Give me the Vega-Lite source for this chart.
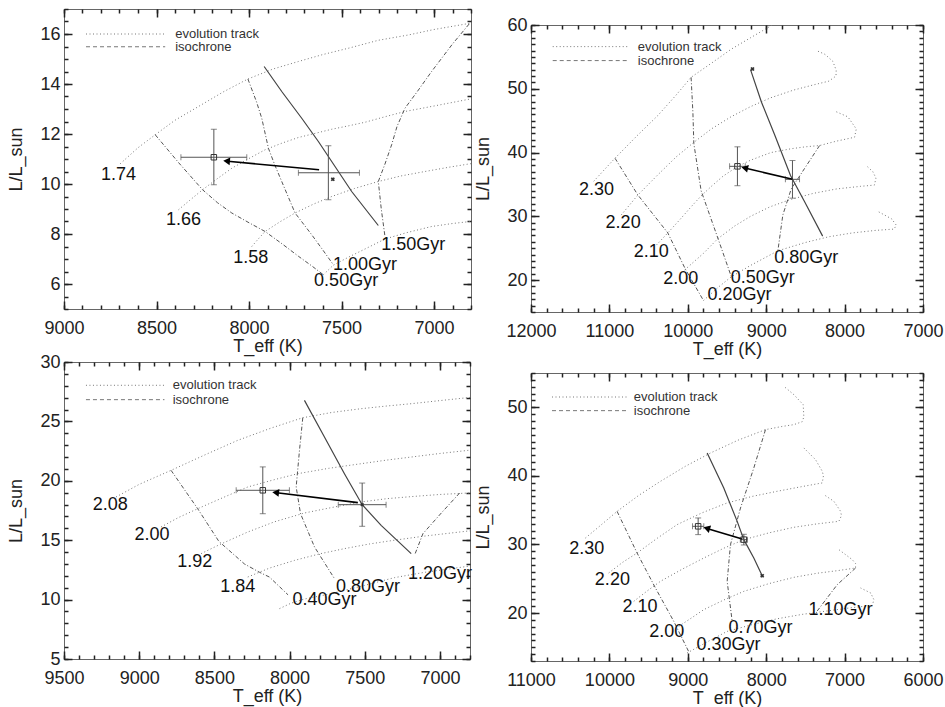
{
"$schema": "https://vega.github.io/schema/vega-lite/v6.json",
"background": "white",
"padding": {"left": 7, "top": 7, "right": 2, "bottom": 2},
"config": {
  "font": "Liberation Sans",
  "view": {"stroke": "#666", "strokeWidth": 1},
  "axis": {"domain": false, "grid": false, "ticks": true, "tickOpacity": 1, "tickColor": "#222", "tickWidth": 1.5, "tickSize": 8, "offset": -8, "labelFont": "Liberation Sans", "labelFontSize": 18, "labelColor": "#222", "titleFont": "Liberation Sans", "titleFontSize": 18, "titleFontWeight": "normal", "titleColor": "#222", "labelOverlap": false, "labelFlush": false},
  "axisBottom": {"labelPadding": 10, "titlePadding": 0},
  "axisLeft": {"labelPadding": 4, "titlePadding": 14},
  "text": {"font": "Liberation Sans"}
},
"datasets": {
  "p1t": [
    {"s":"a","T":8696,"L":10.81},{"s":"a","T":8600,"L":11.45},{"s":"a","T":8507,"L":11.97},{"s":"a","T":8400,"L":12.55},{"s":"a","T":8273,"L":13.1},{"s":"a","T":8140,"L":13.68},{"s":"a","T":8006,"L":14.2},{"s":"a","T":7870,"L":14.6},{"s":"a","T":7733,"L":14.9},{"s":"a","T":7600,"L":15.18},{"s":"a","T":7463,"L":15.43},{"s":"a","T":7300,"L":15.75},{"s":"a","T":7139,"L":15.96},{"s":"a","T":7000,"L":16.18},{"s":"a","T":6804,"L":16.43},{"s":"a","T":6750,"L":16.5},
    {"s":"b","T":8381,"L":8.97},{"s":"b","T":8320,"L":9.35},{"s":"b","T":8251,"L":9.77},{"s":"b","T":8170,"L":10.22},{"s":"b","T":8093,"L":10.63},{"s":"b","T":8000,"L":11.02},{"s":"b","T":7913,"L":11.37},{"s":"b","T":7820,"L":11.64},{"s":"b","T":7733,"L":11.86},{"s":"b","T":7640,"L":12.03},{"s":"b","T":7553,"L":12.19},{"s":"b","T":7460,"L":12.33},{"s":"b","T":7373,"L":12.47},{"s":"b","T":7260,"L":12.7},{"s":"b","T":7157,"L":12.9},{"s":"b","T":7000,"L":13.12},{"s":"b","T":6804,"L":13.4},{"s":"b","T":6750,"L":13.45},
    {"s":"c","T":7985,"L":7.5},{"s":"c","T":7950,"L":7.8},{"s":"c","T":7913,"L":8.1},{"s":"c","T":7830,"L":8.5},{"s":"c","T":7751,"L":8.84},{"s":"c","T":7650,"L":9.2},{"s":"c","T":7553,"L":9.5},{"s":"c","T":7430,"L":9.82},{"s":"c","T":7301,"L":10.1},{"s":"c","T":7180,"L":10.32},{"s":"c","T":7049,"L":10.5},{"s":"c","T":6920,"L":10.67},{"s":"c","T":6804,"L":10.81},{"s":"c","T":6750,"L":10.86},
    {"s":"d","T":7598,"L":6.37},{"s":"d","T":7545,"L":6.75},{"s":"d","T":7450,"L":7.12},{"s":"d","T":7373,"L":7.4},{"s":"d","T":7265,"L":7.8},{"s":"d","T":7150,"L":8.05},{"s":"d","T":7013,"L":8.3},{"s":"d","T":6900,"L":8.42},{"s":"d","T":6804,"L":8.5},{"s":"d","T":6750,"L":8.55}
  ],
  "p1i": [
    {"s":"a","T":8507,"L":11.97},{"s":"a","T":8380,"L":10.85},{"s":"a","T":8251,"L":9.77},{"s":"a","T":8170,"L":9.25},{"s":"a","T":8093,"L":8.84},{"s":"a","T":8000,"L":8.45},{"s":"a","T":7913,"L":8.1},{"s":"a","T":7820,"L":7.6},{"s":"a","T":7733,"L":7.11},{"s":"a","T":7660,"L":6.72},{"s":"a","T":7598,"L":6.37},
    {"s":"b","T":8006,"L":14.2},{"s":"b","T":7960,"L":13.3},{"s":"b","T":7931,"L":12.63},{"s":"b","T":7895,"L":11.43},{"s":"b","T":7860,"L":10.75},{"s":"b","T":7823,"L":10.1},{"s":"b","T":7751,"L":8.84},{"s":"b","T":7661,"L":7.97},{"s":"b","T":7600,"L":7.35},{"s":"b","T":7544,"L":6.77},
    {"s":"c","T":6810,"L":16.4},{"s":"c","T":6900,"L":15.6},{"s":"c","T":7013,"L":14.5},{"s":"c","T":7090,"L":13.7},{"s":"c","T":7157,"L":13.03},{"s":"c","T":7200,"L":12.3},{"s":"c","T":7229,"L":11.57},{"s":"c","T":7265,"L":10.8},{"s":"c","T":7301,"L":10.1},{"s":"c","T":7285,"L":9.0},{"s":"c","T":7265,"L":7.9}
  ],
  "p1s": [{"T":7918,"L":14.7},{"T":7823,"L":13.7},{"T":7715,"L":12.63},{"T":7625,"L":11.7},{"T":7535,"L":10.7},{"T":7445,"L":9.7},{"T":7301,"L":8.34}],
  "p1e": [{"T":8190,"L":11.07,"Tlo":8368,"Thi":8012,"Llo":9.97,"Lhi":12.19},{"T":7571,"L":10.45,"Tlo":7733,"Thi":7403,"Llo":9.37,"Lhi":11.53}],
  "p1a": [{"T1":7621,"L1":10.57,"T2":8115,"L2":10.91}],
  "p1m": [{"k":"sq","T":8190,"L":11.07},{"k":"x","T":7547,"L":10.19}],
  "p1l": [{"t":"1.74","T":8705,"L":10.37},{"t":"1.66","T":8354,"L":8.57},{"t":"1.58","T":7990,"L":7.04},{"t":"0.50Gyr","T":7475,"L":6.11},{"t":"1.00Gyr","T":7373,"L":6.77},{"t":"1.50Gyr","T":7112,"L":7.57}],
  "p1g": [{"k":"evolution track","x1":8881,"x2":8453,"xt":8399,"y":16.0},{"k":"isochrone","x1":8881,"x2":8453,"xt":8399,"y":15.49}],

  "p2t": [
    {"s":"a","T":11200,"L":35.5},{"s":"a","T":10930,"L":39.1},{"s":"a","T":10650,"L":42.6},{"s":"a","T":10383,"L":45.8},{"s":"a","T":10150,"L":49.0},{"s":"a","T":9958,"L":51.8},{"s":"a","T":9700,"L":54.0},{"s":"a","T":9447,"L":56.2},{"s":"a","T":9200,"L":58.0},{"s":"a","T":8936,"L":59.9},{"s":"a","T":8700,"L":61.4},
    {"s":"b","T":10850,"L":30.2},{"s":"b","T":10640,"L":33.3},{"s":"b","T":10383,"L":36.5},{"s":"b","T":10150,"L":39.3},{"s":"b","T":9923,"L":41.6},{"s":"b","T":9700,"L":43.7},{"s":"b","T":9450,"L":45.6},{"s":"b","T":9200,"L":47.2},{"s":"b","T":8940,"L":48.6},{"s":"b","T":8650,"L":49.8},{"s":"b","T":8400,"L":50.6},{"s":"b","T":8200,"L":51.2},{"s":"b","T":8110,"L":52.0},{"s":"b","T":8107,"L":52.9},{"s":"b","T":8150,"L":54.3},{"s":"b","T":8250,"L":55.4},{"s":"b","T":8360,"L":56.0},
    {"s":"c","T":10400,"L":25.5},{"s":"c","T":10255,"L":27.4},{"s":"c","T":10100,"L":29.5},{"s":"c","T":9950,"L":31.6},{"s":"c","T":9830,"L":33.2},{"s":"c","T":9700,"L":34.7},{"s":"c","T":9550,"L":36.3},{"s":"c","T":9367,"L":37.8},{"s":"c","T":9200,"L":38.8},{"s":"c","T":8940,"L":40.0},{"s":"c","T":8681,"L":40.6},{"s":"c","T":8500,"L":40.9},{"s":"c","T":8319,"L":41.1},{"s":"c","T":8100,"L":41.8},{"s":"c","T":7873,"L":42.4},{"s":"c","T":7851,"L":43.7},{"s":"c","T":7958,"L":45.6},{"s":"c","T":8107,"L":46.4},
    {"s":"d","T":10040,"L":21.6},{"s":"d","T":9800,"L":24.2},{"s":"d","T":9617,"L":26.5},{"s":"d","T":9400,"L":28.5},{"s":"d","T":9200,"L":30.0},{"s":"d","T":8950,"L":31.5},{"s":"d","T":8700,"L":32.6},{"s":"d","T":8400,"L":33.6},{"s":"d","T":8100,"L":34.3},{"s":"d","T":7800,"L":34.7},{"s":"d","T":7620,"L":34.9},{"s":"d","T":7600,"L":36.0},{"s":"d","T":7640,"L":37.0},{"s":"d","T":7710,"L":37.8},
    {"s":"e","T":9800,"L":16.8},{"s":"e","T":9600,"L":19.0},{"s":"e","T":9447,"L":20.5},{"s":"e","T":9200,"L":22.3},{"s":"e","T":8851,"L":24.6},{"s":"e","T":8500,"L":25.9},{"s":"e","T":8200,"L":26.8},{"s":"e","T":7900,"L":27.4},{"s":"e","T":7600,"L":27.8},{"s":"e","T":7370,"L":28.0},{"s":"e","T":7340,"L":28.6},{"s":"e","T":7400,"L":29.6},{"s":"e","T":7580,"L":30.8}
  ],
  "p2i": [
    {"s":"a","T":10928,"L":39.1},{"s":"a","T":10640,"L":33.4},{"s":"a","T":10255,"L":27.4},{"s":"a","T":10030,"L":21.7},{"s":"a","T":9800,"L":16.8},
    {"s":"b","T":9958,"L":51.8},{"s":"b","T":9935,"L":46.3},{"s":"b","T":9923,"L":41.4},{"s":"b","T":9830,"L":34.0},{"s":"b","T":9617,"L":26.6},{"s":"b","T":9447,"L":20.6},
    {"s":"c","T":8319,"L":41.1},{"s":"c","T":8511,"L":37.5},{"s":"c","T":8681,"L":34.3},{"s":"c","T":8788,"L":30.2},{"s":"c","T":8851,"L":24.6}
  ],
  "p2s": [{"T":9200,"L":53.0},{"T":9060,"L":47.9},{"T":8890,"L":42.7},{"T":8690,"L":36.4},{"T":8510,"L":32.3},{"T":8280,"L":26.9}],
  "p2e": [{"T":9367,"L":37.84,"Tlo":9467,"Thi":9267,"Llo":34.8,"Lhi":40.9},{"T":8665,"L":35.8,"Tlo":8755,"Thi":8575,"Llo":32.85,"Lhi":38.75}],
  "p2a": [{"T1":8665,"L1":35.8,"T2":9260,"L2":37.55}],
  "p2m": [{"k":"sq","T":9367,"L":37.84},{"k":"x","T":9175,"L":53.1}],
  "p2l": [{"t":"2.30","T":11165,"L":34.1},{"t":"2.20","T":10825,"L":28.9},{"t":"2.10","T":10465,"L":24.4},{"t":"2.00","T":10090,"L":20.25},{"t":"0.20Gyr","T":9341,"L":17.6},{"t":"0.50Gyr","T":9043,"L":20.3},{"t":"0.80Gyr","T":8490,"L":23.4}],
  "p2g": [{"k":"evolution track","x1":11723,"x2":10766,"xt":10638,"y":56.61},{"k":"isochrone","x1":11723,"x2":10766,"xt":10638,"y":54.42}],

  "p3t": [
    {"s":"a","T":9154,"L":18.64},{"s":"a","T":9000,"L":19.7},{"s":"a","T":8788,"L":20.88},{"s":"a","T":8560,"L":22.2},{"s":"a","T":8344,"L":23.41},{"s":"a","T":8120,"L":24.45},{"s":"a","T":7912,"L":25.31},{"s":"a","T":7720,"L":25.75},{"s":"a","T":7524,"L":26.07},{"s":"a","T":7350,"L":26.3},{"s":"a","T":7191,"L":26.49},{"s":"a","T":7000,"L":26.75},{"s":"a","T":6814,"L":27.0},{"s":"a","T":6750,"L":27.1},
    {"s":"b","T":8855,"L":16.11},{"s":"b","T":8740,"L":16.9},{"s":"b","T":8611,"L":17.65},{"s":"b","T":8440,"L":18.6},{"s":"b","T":8278,"L":19.48},{"s":"b","T":8100,"L":20.1},{"s":"b","T":7945,"L":20.6},{"s":"b","T":7740,"L":21.05},{"s":"b","T":7524,"L":21.44},{"s":"b","T":7350,"L":21.75},{"s":"b","T":7191,"L":22.0},{"s":"b","T":7000,"L":22.3},{"s":"b","T":6814,"L":22.56},{"s":"b","T":6750,"L":22.65},
    {"s":"c","T":8588,"L":13.87},{"s":"c","T":8470,"L":14.6},{"s":"c","T":8278,"L":15.69},{"s":"c","T":8100,"L":16.55},{"s":"c","T":7901,"L":17.29},{"s":"c","T":7700,"L":17.8},{"s":"c","T":7524,"L":18.22},{"s":"c","T":7350,"L":18.5},{"s":"c","T":7169,"L":18.69},{"s":"c","T":7000,"L":18.85},{"s":"c","T":6814,"L":18.97},{"s":"c","T":6750,"L":19.0},
    {"s":"d","T":8278,"L":11.9},{"s":"d","T":8134,"L":12.65},{"s":"d","T":7967,"L":13.3},{"s":"d","T":7800,"L":13.85},{"s":"d","T":7635,"L":14.29},{"s":"d","T":7470,"L":14.68},{"s":"d","T":7302,"L":15.0},{"s":"d","T":7100,"L":15.35},{"s":"d","T":6814,"L":15.77},{"s":"d","T":6750,"L":15.85},
    {"s":"e","T":8067,"L":9.24},{"s":"e","T":7990,"L":9.7},{"s":"e","T":7900,"L":10.05},{"s":"e","T":7746,"L":10.44},{"s":"e","T":7500,"L":11.2},{"s":"e","T":7302,"L":11.85},{"s":"e","T":7100,"L":12.3},{"s":"e","T":6814,"L":12.8},{"s":"e","T":6750,"L":12.9}
  ],
  "p3i": [
    {"s":"a","T":8788,"L":20.88},{"s":"a","T":8611,"L":17.65},{"s":"a","T":8470,"L":14.9},{"s":"a","T":8300,"L":13.0},{"s":"a","T":8200,"L":12.3},{"s":"a","T":8134,"L":11.9},{"s":"a","T":8010,"L":10.4},
    {"s":"b","T":7912,"L":25.31},{"s":"b","T":7934,"L":22.56},{"s":"b","T":7956,"L":19.48},{"s":"b","T":7927,"L":17.23},{"s":"b","T":7834,"L":14.43},{"s":"b","T":7701,"L":11.76},
    {"s":"c","T":6869,"L":18.97},{"s":"c","T":6990,"L":17.3},{"s":"c","T":7113,"L":15.55},{"s":"c","T":7169,"L":13.73}
  ],
  "p3s": [{"T":7901,"L":26.77},{"T":7768,"L":23.69},{"T":7635,"L":20.6},{"T":7517,"L":17.99},{"T":7391,"L":16.25},{"T":7191,"L":13.87}],
  "p3e": [{"T":8178,"L":19.2,"Tlo":8355,"Thi":8001,"Llo":17.23,"Lhi":21.17},{"T":7517,"L":17.99,"Tlo":7676,"Thi":7358,"Llo":16.17,"Lhi":19.81}],
  "p3a": [{"T1":7546,"L1":18.16,"T2":8085,"L2":19.0}],
  "p3m": [{"k":"sq","T":8178,"L":19.2},{"k":"x","T":7517,"L":17.99}],
  "p3l": [{"t":"2.08","T":9192,"L":17.93},{"t":"2.00","T":8914,"L":15.41},{"t":"1.92","T":8630,"L":13.16},{"t":"1.84","T":8344,"L":11.06},{"t":"0.40Gyr","T":7768,"L":9.94},{"t":"0.80Gyr","T":7479,"L":11.06},{"t":"1.20Gyr","T":7000,"L":12.18}],
  "p3g": [{"k":"evolution track","x1":9354,"x2":8832,"xt":8777,"y":28.04},{"k":"isochrone","x1":9354,"x2":8832,"xt":8777,"y":26.83}],

  "p4t": [
    {"s":"a","T":10306,"L":30.93},{"s":"a","T":10100,"L":32.9},{"s":"a","T":9902,"L":34.82},{"s":"a","T":9620,"L":37.2},{"s":"a","T":9349,"L":39.2},{"s":"a","T":9030,"L":41.4},{"s":"a","T":8711,"L":43.33},{"s":"a","T":8360,"L":45.2},{"s":"a","T":8009,"L":46.74},{"s":"a","T":7800,"L":47.2},{"s":"a","T":7647,"L":47.47},{"s":"a","T":7540,"L":47.9},{"s":"a","T":7520,"L":48.6},{"s":"a","T":7528,"L":50.38},{"s":"a","T":7647,"L":51.84},{"s":"a","T":7775,"L":53.06},
    {"s":"b","T":10009,"L":25.84},{"s":"b","T":9830,"L":27.4},{"s":"b","T":9647,"L":28.75},{"s":"b","T":9390,"L":30.9},{"s":"b","T":9136,"L":32.89},{"s":"b","T":8820,"L":34.6},{"s":"b","T":8498,"L":36.05},{"s":"b","T":8180,"L":37.0},{"s":"b","T":7860,"L":37.75},{"s":"b","T":7560,"L":38.4},{"s":"b","T":7285,"L":38.97},{"s":"b","T":7270,"L":40.0},{"s":"b","T":7285,"L":40.67},{"s":"b","T":7371,"L":42.37},{"s":"b","T":7520,"L":44.07},
    {"s":"c","T":9689,"L":21.7},{"s":"c","T":9520,"L":23.2},{"s":"c","T":9349,"L":24.62},{"s":"c","T":9070,"L":26.4},{"s":"c","T":8796,"L":28.02},{"s":"c","T":8540,"L":29.45},{"s":"c","T":8285,"L":30.7},{"s":"c","T":7960,"L":31.7},{"s":"c","T":7647,"L":32.5},{"s":"c","T":7350,"L":33.0},{"s":"c","T":7073,"L":33.37},{"s":"c","T":7040,"L":34.2},{"s":"c","T":7051,"L":34.83},{"s":"c","T":7137,"L":36.29},{"s":"c","T":7264,"L":37.26},
    {"s":"d","T":9115,"L":18.06},{"s":"d","T":8950,"L":19.3},{"s":"d","T":8796,"L":20.49},{"s":"d","T":8540,"L":21.9},{"s":"d","T":8285,"L":23.16},{"s":"d","T":7960,"L":24.3},{"s":"d","T":7647,"L":25.2},{"s":"d","T":7350,"L":25.8},{"s":"d","T":7094,"L":26.17},{"s":"d","T":6860,"L":26.56},{"s":"d","T":6860,"L":27.2},{"s":"d","T":6902,"L":27.78},{"s":"d","T":7073,"L":29.24},
    {"s":"e","T":9009,"L":14.17},{"s":"e","T":8750,"L":15.8},{"s":"e","T":8498,"L":17.32},{"s":"e","T":8180,"L":18.3},{"s":"e","T":7860,"L":19.16},{"s":"e","T":7540,"L":19.8},{"s":"e","T":7222,"L":20.3},{"s":"e","T":6930,"L":20.75},{"s":"e","T":6647,"L":21.1},{"s":"e","T":6626,"L":21.95},{"s":"e","T":6668,"L":22.92},{"s":"e","T":6796,"L":23.65}
  ],
  "p4i": [
    {"s":"a","T":9902,"L":34.82},{"s":"a","T":9647,"L":28.75},{"s":"a","T":9413,"L":23.65},{"s":"a","T":9179,"L":18.79},{"s":"a","T":8990,"L":14.4},
    {"s":"b","T":8009,"L":46.74},{"s":"b","T":8158,"L":41.15},{"s":"b","T":8328,"L":35.31},{"s":"b","T":8456,"L":29.96},{"s":"b","T":8498,"L":24.62},{"s":"b","T":8434,"L":18.79},
    {"s":"c","T":6860,"L":26.56},{"s":"c","T":7094,"L":24.13},{"s":"c","T":7349,"L":20.3}
  ],
  "p4s": [{"T":8753,"L":43.33},{"T":8541,"L":38.22},{"T":8370,"L":33.36},{"T":8285,"L":30.7},{"T":8158,"L":28.03},{"T":8051,"L":25.43}],
  "p4e": [{"T":8868,"L":32.64,"Tlo":8940,"Thi":8796,"Llo":31.43,"Lhi":33.86},{"T":8285,"L":30.7,"Tlo":8330,"Thi":8240,"Llo":29.92,"Lhi":31.48}],
  "p4a": [{"T1":8306,"L1":30.8,"T2":8745,"L2":32.3}],
  "p4m": [{"k":"sq","T":8868,"L":32.64},{"k":"sq","T":8285,"L":30.7},{"k":"x","T":8051,"L":25.43}],
  "p4l": [{"t":"2.30","T":10289,"L":29.4},{"t":"2.20","T":9962,"L":24.8},{"t":"2.10","T":9609,"L":20.9},{"t":"2.00","T":9268,"L":17.3},{"t":"0.30Gyr","T":8480,"L":15.35},{"t":"0.70Gyr","T":8072,"L":17.8},{"t":"1.10Gyr","T":7051,"L":20.4}],
  "p4g": [{"k":"evolution track","x1":10732,"x2":9775,"xt":9689,"y":51.5},{"k":"isochrone","x1":10732,"x2":9775,"xt":9689,"y":49.51}]
},
"hconcat": [
 {"vconcat": [
  {"width": 407, "height": 300,
   "layer": [
    {"data":{"name":"p1t"},"mark":{"type":"line","stroke":"#777","strokeWidth":1,"strokeDash":[1,2.5],"clip":true},
     "encoding":{"x":{"field":"T","type":"quantitative","scale":{"domain":[6800,9000],"reverse":true,"nice":false,"zero":false},"axis":{"orient":"bottom","values":[7000,7500,8000,8500,9000],"format":"d","title":"T_eff (K)"}},
                 "y":{"field":"L","type":"quantitative","scale":{"domain":[5,17],"nice":false,"zero":false},"axis":{"orient":"left","values":[6,8,10,12,14,16],"format":"d","title":"L/L_sun"}},
                 "detail":{"field":"s"},"order":{"value":null}}},
    {"data":{"name":"p1i"},"mark":{"type":"line","stroke":"#555","strokeWidth":1,"strokeDash":[4,2,1,2],"clip":true},
     "encoding":{"x":{"field":"T","type":"quantitative","axis":{"orient":"top","values":[7000,7500,8000,8500,9000],"labels":false,"title":null}},
                 "y":{"field":"L","type":"quantitative","axis":{"orient":"right","values":[6,8,10,12,14,16],"labels":false,"title":null}},
                 "detail":{"field":"s"},"order":{"value":null}}},
    {"data":{"name":"p1s"},"mark":{"type":"line","stroke":"#444","strokeWidth":1.2,"clip":true},
     "encoding":{"x":{"field":"T","type":"quantitative","axis":{"orient":"bottom","tickCount":22,"tickSize":4,"offset":-4,"labels":false,"title":null}},
                 "y":{"field":"L","type":"quantitative","axis":{"orient":"left","tickCount":24,"tickSize":4,"offset":-4,"labels":false,"title":null}},
                 "order":{"value":null}}},
    {"data":{"name":"p1e"},"mark":{"type":"rule","stroke":"#555","strokeWidth":1},
     "encoding":{"x":{"field":"Tlo","type":"quantitative","axis":{"orient":"top","tickCount":22,"tickSize":4,"offset":-4,"labels":false,"title":null}},"x2":{"field":"Thi"},
                 "y":{"field":"L","type":"quantitative","axis":{"orient":"right","tickCount":24,"tickSize":4,"offset":-4,"labels":false,"title":null}}}},
    {"data":{"name":"p1e"},"mark":{"type":"rule","stroke":"#555","strokeWidth":1},
     "encoding":{"x":{"field":"T","type":"quantitative","axis":null},"y":{"field":"Llo","type":"quantitative","axis":null},"y2":{"field":"Lhi"}}},
    {"data":{"name":"p1e"},"transform":[{"fold":["Tlo","Thi"],"as":["end","Tc"]}],"mark":{"type":"tick","orient":"vertical","size":6,"thickness":1,"color":"#555"},
     "encoding":{"x":{"field":"Tc","type":"quantitative","axis":null},"y":{"field":"L","type":"quantitative","axis":null}}},
    {"data":{"name":"p1e"},"transform":[{"fold":["Llo","Lhi"],"as":["end","Lc"]}],"mark":{"type":"tick","orient":"horizontal","size":6,"thickness":1,"color":"#555"},
     "encoding":{"x":{"field":"T","type":"quantitative","axis":null},"y":{"field":"Lc","type":"quantitative","axis":null}}},
    {"data":{"name":"p1a"},"mark":{"type":"rule","stroke":"#000","strokeWidth":1.6},
     "encoding":{"x":{"field":"T1","type":"quantitative","axis":null},"y":{"field":"L1","type":"quantitative","axis":null},"x2":{"field":"T2"},"y2":{"field":"L2"}}},
    {"data":{"name":"p1a"},"mark":{"type":"point","shape":"triangle","angle":275,"size":60,"filled":true,"color":"#000","opacity":1},
     "encoding":{"x":{"field":"T2","type":"quantitative","axis":null},"y":{"field":"L2","type":"quantitative","axis":null}}},
    {"data":{"name":"p1m"},"transform":[{"filter":"datum.k === 'sq'"}],"mark":{"type":"point","shape":"square","size":30,"filled":false,"stroke":"#333","strokeWidth":1,"opacity":1},
     "encoding":{"x":{"field":"T","type":"quantitative","axis":null},"y":{"field":"L","type":"quantitative","axis":null}}},
    {"data":{"name":"p1m"},"transform":[{"filter":"datum.k === 'x'"}],"mark":{"type":"point","shape":"cross","angle":45,"size":18,"filled":true,"color":"#333","opacity":1},
     "encoding":{"x":{"field":"T","type":"quantitative","axis":null},"y":{"field":"L","type":"quantitative","axis":null}}},
    {"data":{"name":"p1l"},"mark":{"type":"text","fontSize":18,"color":"#111","align":"center","baseline":"middle"},
     "encoding":{"x":{"field":"T","type":"quantitative","axis":null},"y":{"field":"L","type":"quantitative","axis":null},"text":{"field":"t"}}},
    {"data":{"name":"p1g"},"mark":{"type":"rule","stroke":"#777","strokeWidth":1},
     "encoding":{"x":{"field":"x1","type":"quantitative","axis":null},"x2":{"field":"x2"},"y":{"field":"y","type":"quantitative","axis":null},
                 "strokeDash":{"field":"k","type":"nominal","scale":{"domain":["evolution track","isochrone"],"range":[[1,2.5],[4,3]]},"legend":null}}},
    {"data":{"name":"p1g"},"mark":{"type":"text","align":"left","baseline":"middle","fontSize":13,"color":"#333"},
     "encoding":{"x":{"field":"xt","type":"quantitative","axis":null},"y":{"field":"y","type":"quantitative","axis":null},"text":{"field":"k"}}}
   ],
   "resolve":{"axis":{"x":"independent","y":"independent"}}
  },
  {"width": 406, "height": 297,
   "layer": [
    {"data":{"name":"p3t"},"mark":{"type":"line","stroke":"#777","strokeWidth":1,"strokeDash":[1,2.5],"clip":true},
     "encoding":{"x":{"field":"T","type":"quantitative","scale":{"domain":[6800,9500],"reverse":true,"nice":false,"zero":false},"axis":{"orient":"bottom","values":[7000,7500,8000,8500,9000,9500],"format":"d","title":"T_eff (K)"}},
                 "y":{"field":"L","type":"quantitative","scale":{"domain":[5,30],"nice":false,"zero":false},"axis":{"orient":"left","values":[5,10,15,20,25,30],"format":"d","title":"L/L_sun"}},
                 "detail":{"field":"s"},"order":{"value":null}}},
    {"data":{"name":"p3i"},"mark":{"type":"line","stroke":"#555","strokeWidth":1,"strokeDash":[4,2,1,2],"clip":true},
     "encoding":{"x":{"field":"T","type":"quantitative","axis":{"orient":"top","values":[7000,7500,8000,8500,9000,9500],"labels":false,"title":null}},
                 "y":{"field":"L","type":"quantitative","axis":{"orient":"right","values":[5,10,15,20,25,30],"labels":false,"title":null}},
                 "detail":{"field":"s"},"order":{"value":null}}},
    {"data":{"name":"p3s"},"mark":{"type":"line","stroke":"#444","strokeWidth":1.2,"clip":true},
     "encoding":{"x":{"field":"T","type":"quantitative","axis":{"orient":"bottom","tickCount":27,"tickSize":4,"offset":-4,"labels":false,"title":null}},
                 "y":{"field":"L","type":"quantitative","axis":{"orient":"left","tickCount":25,"tickSize":4,"offset":-4,"labels":false,"title":null}},
                 "order":{"value":null}}},
    {"data":{"name":"p3e"},"mark":{"type":"rule","stroke":"#555","strokeWidth":1},
     "encoding":{"x":{"field":"Tlo","type":"quantitative","axis":{"orient":"top","tickCount":27,"tickSize":4,"offset":-4,"labels":false,"title":null}},"x2":{"field":"Thi"},
                 "y":{"field":"L","type":"quantitative","axis":{"orient":"right","tickCount":25,"tickSize":4,"offset":-4,"labels":false,"title":null}}}},
    {"data":{"name":"p3e"},"mark":{"type":"rule","stroke":"#555","strokeWidth":1},
     "encoding":{"x":{"field":"T","type":"quantitative","axis":null},"y":{"field":"Llo","type":"quantitative","axis":null},"y2":{"field":"Lhi"}}},
    {"data":{"name":"p3e"},"transform":[{"fold":["Tlo","Thi"],"as":["end","Tc"]}],"mark":{"type":"tick","orient":"vertical","size":6,"thickness":1,"color":"#555"},
     "encoding":{"x":{"field":"Tc","type":"quantitative","axis":null},"y":{"field":"L","type":"quantitative","axis":null}}},
    {"data":{"name":"p3e"},"transform":[{"fold":["Llo","Lhi"],"as":["end","Lc"]}],"mark":{"type":"tick","orient":"horizontal","size":6,"thickness":1,"color":"#555"},
     "encoding":{"x":{"field":"T","type":"quantitative","axis":null},"y":{"field":"Lc","type":"quantitative","axis":null}}},
    {"data":{"name":"p3a"},"mark":{"type":"rule","stroke":"#000","strokeWidth":1.6},
     "encoding":{"x":{"field":"T1","type":"quantitative","axis":null},"y":{"field":"L1","type":"quantitative","axis":null},"x2":{"field":"T2"},"y2":{"field":"L2"}}},
    {"data":{"name":"p3a"},"mark":{"type":"point","shape":"triangle","angle":277,"size":60,"filled":true,"color":"#000","opacity":1},
     "encoding":{"x":{"field":"T2","type":"quantitative","axis":null},"y":{"field":"L2","type":"quantitative","axis":null}}},
    {"data":{"name":"p3m"},"transform":[{"filter":"datum.k === 'sq'"}],"mark":{"type":"point","shape":"square","size":30,"filled":false,"stroke":"#333","strokeWidth":1,"opacity":1},
     "encoding":{"x":{"field":"T","type":"quantitative","axis":null},"y":{"field":"L","type":"quantitative","axis":null}}},
    {"data":{"name":"p3m"},"transform":[{"filter":"datum.k === 'x'"}],"mark":{"type":"point","shape":"cross","angle":45,"size":14,"filled":true,"color":"#333","opacity":1},
     "encoding":{"x":{"field":"T","type":"quantitative","axis":null},"y":{"field":"L","type":"quantitative","axis":null}}},
    {"data":{"name":"p3l"},"mark":{"type":"text","fontSize":18,"color":"#111","align":"center","baseline":"middle"},
     "encoding":{"x":{"field":"T","type":"quantitative","axis":null},"y":{"field":"L","type":"quantitative","axis":null},"text":{"field":"t"}}},
    {"data":{"name":"p3g"},"mark":{"type":"rule","stroke":"#777","strokeWidth":1},
     "encoding":{"x":{"field":"x1","type":"quantitative","axis":null},"x2":{"field":"x2"},"y":{"field":"y","type":"quantitative","axis":null},
                 "strokeDash":{"field":"k","type":"nominal","scale":{"domain":["evolution track","isochrone"],"range":[[1,2.5],[4,3]]},"legend":null}}},
    {"data":{"name":"p3g"},"mark":{"type":"text","align":"left","baseline":"middle","fontSize":13,"color":"#333"},
     "encoding":{"x":{"field":"xt","type":"quantitative","axis":null},"y":{"field":"y","type":"quantitative","axis":null},"text":{"field":"k"}}}
   ],
   "resolve":{"axis":{"x":"independent","y":"independent"}}
  }
 ], "spacing": 53, "bounds": "flush"},
 {"vconcat": [
  {"width": 392, "height": 6, "view": {"stroke": null}, "data": {"values": []}, "mark": "point"},
  {"width": 392, "height": 287,
   "layer": [
    {"data":{"name":"p2t"},"mark":{"type":"line","stroke":"#777","strokeWidth":1,"strokeDash":[1,2.5],"clip":true},
     "encoding":{"x":{"field":"T","type":"quantitative","scale":{"domain":[7000,12000],"reverse":true,"nice":false,"zero":false},"axis":{"orient":"bottom","values":[7000,8000,9000,10000,11000,12000],"format":"d","title":"T_eff (K)"}},
                 "y":{"field":"L","type":"quantitative","scale":{"domain":[15,60],"nice":false,"zero":false},"axis":{"orient":"left","values":[20,30,40,50,60],"format":"d","title":"L/L_sun"}},
                 "detail":{"field":"s"},"order":{"value":null}}},
    {"data":{"name":"p2i"},"mark":{"type":"line","stroke":"#555","strokeWidth":1,"strokeDash":[4,2,1,2],"clip":true},
     "encoding":{"x":{"field":"T","type":"quantitative","axis":{"orient":"top","values":[7000,8000,9000,10000,11000,12000],"labels":false,"title":null}},
                 "y":{"field":"L","type":"quantitative","axis":{"orient":"right","values":[20,30,40,50,60],"labels":false,"title":null}},
                 "detail":{"field":"s"},"order":{"value":null}}},
    {"data":{"name":"p2s"},"mark":{"type":"line","stroke":"#444","strokeWidth":1.2,"clip":true},
     "encoding":{"x":{"field":"T","type":"quantitative","axis":{"orient":"bottom","tickCount":25,"tickSize":4,"offset":-4,"labels":false,"title":null}},
                 "y":{"field":"L","type":"quantitative","axis":{"orient":"left","tickCount":45,"tickSize":4,"offset":-4,"labels":false,"title":null}},
                 "order":{"value":null}}},
    {"data":{"name":"p2e"},"mark":{"type":"rule","stroke":"#555","strokeWidth":1},
     "encoding":{"x":{"field":"Tlo","type":"quantitative","axis":{"orient":"top","tickCount":25,"tickSize":4,"offset":-4,"labels":false,"title":null}},"x2":{"field":"Thi"},
                 "y":{"field":"L","type":"quantitative","axis":{"orient":"right","tickCount":45,"tickSize":4,"offset":-4,"labels":false,"title":null}}}},
    {"data":{"name":"p2e"},"mark":{"type":"rule","stroke":"#555","strokeWidth":1},
     "encoding":{"x":{"field":"T","type":"quantitative","axis":null},"y":{"field":"Llo","type":"quantitative","axis":null},"y2":{"field":"Lhi"}}},
    {"data":{"name":"p2e"},"transform":[{"fold":["Tlo","Thi"],"as":["end","Tc"]}],"mark":{"type":"tick","orient":"vertical","size":6,"thickness":1,"color":"#555"},
     "encoding":{"x":{"field":"Tc","type":"quantitative","axis":null},"y":{"field":"L","type":"quantitative","axis":null}}},
    {"data":{"name":"p2e"},"transform":[{"fold":["Llo","Lhi"],"as":["end","Lc"]}],"mark":{"type":"tick","orient":"horizontal","size":6,"thickness":1,"color":"#555"},
     "encoding":{"x":{"field":"T","type":"quantitative","axis":null},"y":{"field":"Lc","type":"quantitative","axis":null}}},
    {"data":{"name":"p2a"},"mark":{"type":"rule","stroke":"#000","strokeWidth":1.6},
     "encoding":{"x":{"field":"T1","type":"quantitative","axis":null},"y":{"field":"L1","type":"quantitative","axis":null},"x2":{"field":"T2"},"y2":{"field":"L2"}}},
    {"data":{"name":"p2a"},"mark":{"type":"point","shape":"triangle","angle":283,"size":60,"filled":true,"color":"#000","opacity":1},
     "encoding":{"x":{"field":"T2","type":"quantitative","axis":null},"y":{"field":"L2","type":"quantitative","axis":null}}},
    {"data":{"name":"p2m"},"transform":[{"filter":"datum.k === 'sq'"}],"mark":{"type":"point","shape":"square","size":30,"filled":false,"stroke":"#333","strokeWidth":1,"opacity":1},
     "encoding":{"x":{"field":"T","type":"quantitative","axis":null},"y":{"field":"L","type":"quantitative","axis":null}}},
    {"data":{"name":"p2m"},"transform":[{"filter":"datum.k === 'x'"}],"mark":{"type":"point","shape":"cross","angle":45,"size":18,"filled":true,"color":"#333","opacity":1},
     "encoding":{"x":{"field":"T","type":"quantitative","axis":null},"y":{"field":"L","type":"quantitative","axis":null}}},
    {"data":{"name":"p2l"},"mark":{"type":"text","fontSize":18,"color":"#111","align":"center","baseline":"middle"},
     "encoding":{"x":{"field":"T","type":"quantitative","axis":null},"y":{"field":"L","type":"quantitative","axis":null},"text":{"field":"t"}}},
    {"data":{"name":"p2g"},"mark":{"type":"rule","stroke":"#777","strokeWidth":1},
     "encoding":{"x":{"field":"x1","type":"quantitative","axis":null},"x2":{"field":"x2"},"y":{"field":"y","type":"quantitative","axis":null},
                 "strokeDash":{"field":"k","type":"nominal","scale":{"domain":["evolution track","isochrone"],"range":[[1,2.5],[4,3]]},"legend":null}}},
    {"data":{"name":"p2g"},"mark":{"type":"text","align":"left","baseline":"middle","fontSize":13,"color":"#333"},
     "encoding":{"x":{"field":"xt","type":"quantitative","axis":null},"y":{"field":"y","type":"quantitative","axis":null},"text":{"field":"k"}}}
   ],
   "resolve":{"axis":{"x":"independent","y":"independent"}}
  },
  {"width": 392, "height": 41, "view": {"stroke": null}, "data": {"values": []}, "mark": "point"},
  {"width": 392, "height": 288,
   "layer": [
    {"data":{"name":"p4t"},"mark":{"type":"line","stroke":"#777","strokeWidth":1,"strokeDash":[1,2.5],"clip":true},
     "encoding":{"x":{"field":"T","type":"quantitative","scale":{"domain":[6000,11000],"reverse":true,"nice":false,"zero":false},"axis":{"orient":"bottom","values":[6000,7000,8000,9000,10000,11000],"format":"d","title":"T_eff (K)"}},
                 "y":{"field":"L","type":"quantitative","scale":{"domain":[13,55],"nice":false,"zero":false},"axis":{"orient":"left","values":[20,30,40,50],"format":"d","title":"L/L_sun"}},
                 "detail":{"field":"s"},"order":{"value":null}}},
    {"data":{"name":"p4i"},"mark":{"type":"line","stroke":"#555","strokeWidth":1,"strokeDash":[4,2,1,2],"clip":true},
     "encoding":{"x":{"field":"T","type":"quantitative","axis":{"orient":"top","values":[6000,7000,8000,9000,10000,11000],"labels":false,"title":null}},
                 "y":{"field":"L","type":"quantitative","axis":{"orient":"right","values":[20,30,40,50],"labels":false,"title":null}},
                 "detail":{"field":"s"},"order":{"value":null}}},
    {"data":{"name":"p4s"},"mark":{"type":"line","stroke":"#444","strokeWidth":1.2,"clip":true},
     "encoding":{"x":{"field":"T","type":"quantitative","axis":{"orient":"bottom","tickCount":25,"tickSize":4,"offset":-4,"labels":false,"title":null}},
                 "y":{"field":"L","type":"quantitative","axis":{"orient":"left","tickCount":42,"tickSize":4,"offset":-4,"labels":false,"title":null}},
                 "order":{"value":null}}},
    {"data":{"name":"p4e"},"mark":{"type":"rule","stroke":"#555","strokeWidth":1},
     "encoding":{"x":{"field":"Tlo","type":"quantitative","axis":{"orient":"top","tickCount":25,"tickSize":4,"offset":-4,"labels":false,"title":null}},"x2":{"field":"Thi"},
                 "y":{"field":"L","type":"quantitative","axis":{"orient":"right","tickCount":42,"tickSize":4,"offset":-4,"labels":false,"title":null}}}},
    {"data":{"name":"p4e"},"mark":{"type":"rule","stroke":"#555","strokeWidth":1},
     "encoding":{"x":{"field":"T","type":"quantitative","axis":null},"y":{"field":"Llo","type":"quantitative","axis":null},"y2":{"field":"Lhi"}}},
    {"data":{"name":"p4e"},"transform":[{"fold":["Tlo","Thi"],"as":["end","Tc"]}],"mark":{"type":"tick","orient":"vertical","size":6,"thickness":1,"color":"#555"},
     "encoding":{"x":{"field":"Tc","type":"quantitative","axis":null},"y":{"field":"L","type":"quantitative","axis":null}}},
    {"data":{"name":"p4e"},"transform":[{"fold":["Llo","Lhi"],"as":["end","Lc"]}],"mark":{"type":"tick","orient":"horizontal","size":6,"thickness":1,"color":"#555"},
     "encoding":{"x":{"field":"T","type":"quantitative","axis":null},"y":{"field":"Lc","type":"quantitative","axis":null}}},
    {"data":{"name":"p4a"},"mark":{"type":"rule","stroke":"#000","strokeWidth":1.6},
     "encoding":{"x":{"field":"T1","type":"quantitative","axis":null},"y":{"field":"L1","type":"quantitative","axis":null},"x2":{"field":"T2"},"y2":{"field":"L2"}}},
    {"data":{"name":"p4a"},"mark":{"type":"point","shape":"triangle","angle":287,"size":60,"filled":true,"color":"#000","opacity":1},
     "encoding":{"x":{"field":"T2","type":"quantitative","axis":null},"y":{"field":"L2","type":"quantitative","axis":null}}},
    {"data":{"name":"p4m"},"transform":[{"filter":"datum.k === 'sq'"}],"mark":{"type":"point","shape":"square","size":30,"filled":false,"stroke":"#333","strokeWidth":1,"opacity":1},
     "encoding":{"x":{"field":"T","type":"quantitative","axis":null},"y":{"field":"L","type":"quantitative","axis":null}}},
    {"data":{"name":"p4m"},"transform":[{"filter":"datum.k === 'x'"}],"mark":{"type":"point","shape":"cross","angle":45,"size":18,"filled":true,"color":"#333","opacity":1},
     "encoding":{"x":{"field":"T","type":"quantitative","axis":null},"y":{"field":"L","type":"quantitative","axis":null}}},
    {"data":{"name":"p4l"},"mark":{"type":"text","fontSize":18,"color":"#111","align":"center","baseline":"middle"},
     "encoding":{"x":{"field":"T","type":"quantitative","axis":null},"y":{"field":"L","type":"quantitative","axis":null},"text":{"field":"t"}}},
    {"data":{"name":"p4g"},"mark":{"type":"rule","stroke":"#777","strokeWidth":1},
     "encoding":{"x":{"field":"x1","type":"quantitative","axis":null},"x2":{"field":"x2"},"y":{"field":"y","type":"quantitative","axis":null},
                 "strokeDash":{"field":"k","type":"nominal","scale":{"domain":["evolution track","isochrone"],"range":[[1,2.5],[4,3]]},"legend":null}}},
    {"data":{"name":"p4g"},"mark":{"type":"text","align":"left","baseline":"middle","fontSize":13,"color":"#333"},
     "encoding":{"x":{"field":"xt","type":"quantitative","axis":null},"y":{"field":"y","type":"quantitative","axis":null},"text":{"field":"k"}}}
   ],
   "resolve":{"axis":{"x":"independent","y":"independent"}}
  }
 ], "spacing": 10, "bounds": "flush"}
],
"spacing": 1
}
